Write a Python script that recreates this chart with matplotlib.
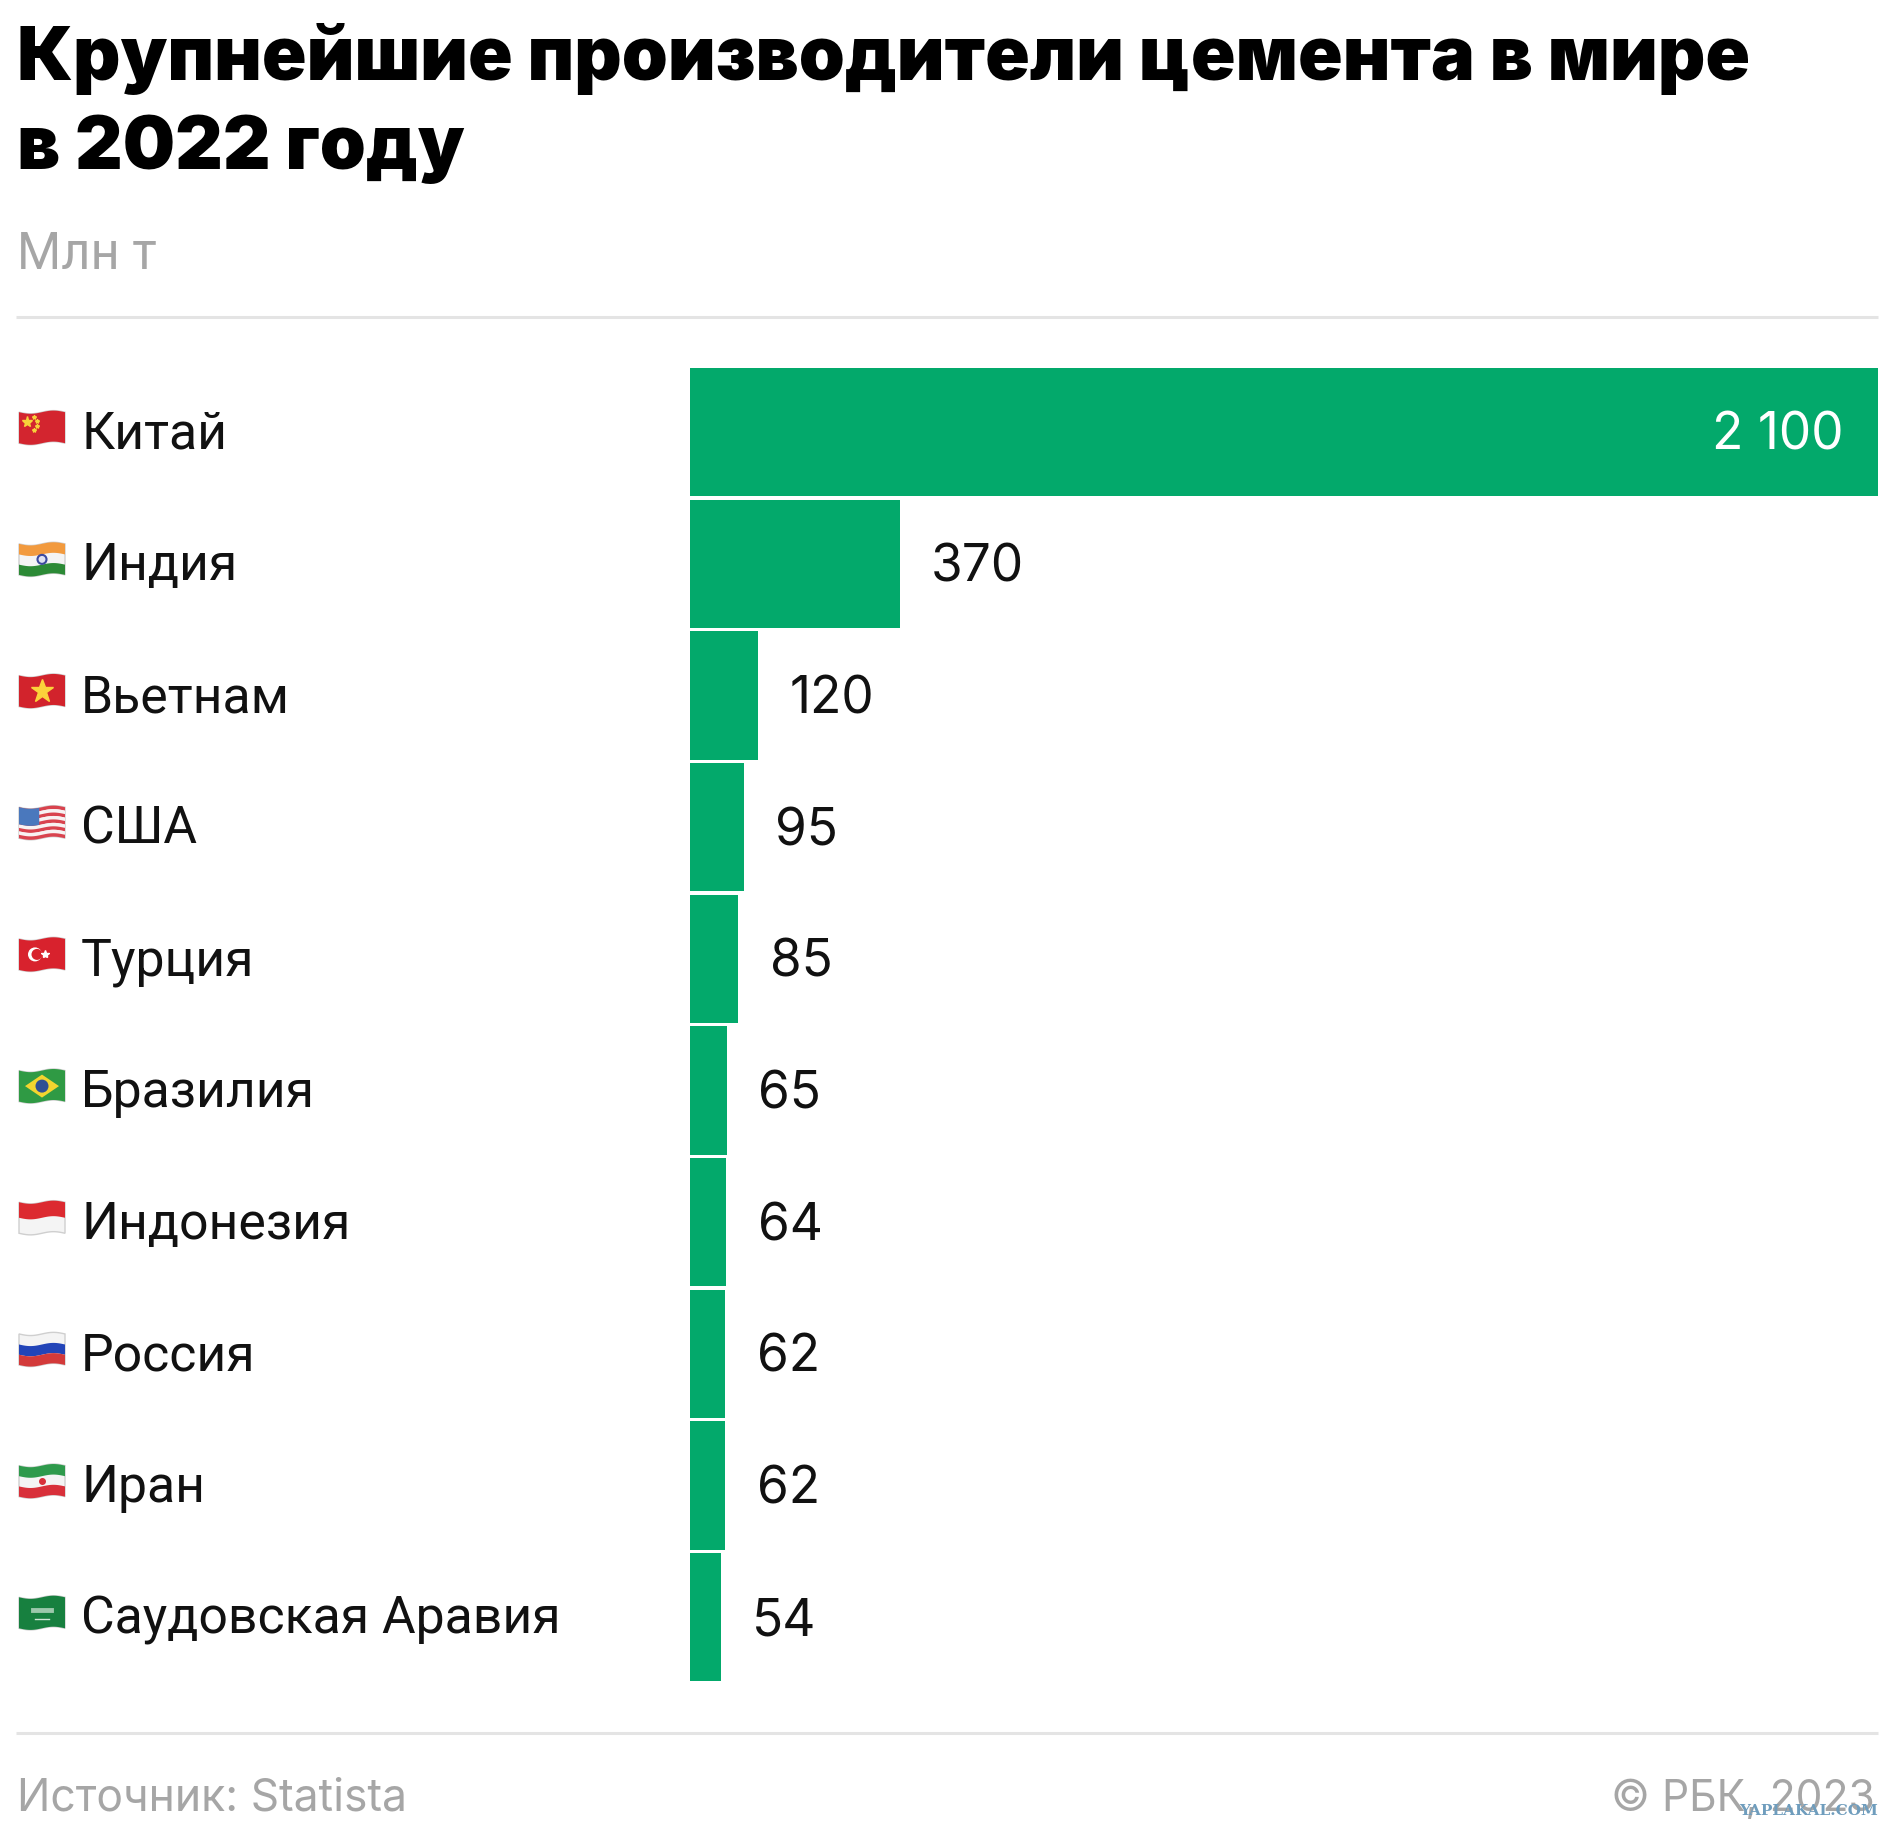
import numpy as np
import matplotlib
matplotlib.use('Agg')
from matplotlib import pyplot as plt
from matplotlib.patches import Polygon, Circle

W = 1904
H = 1840

countries = ['Китай', 'Индия', 'Вьетнам', 'США', 'Турция', 'Бразилия',
             'Индонезия', 'Россия', 'Иран', 'Саудовская Аравия']
values = [2100, 370, 120, 95, 85, 65, 64, 62, 62, 54]
value_labels = ['2 100', '370', '120', '95', '85', '65', '64', '62', '62', '54']

GREEN = '#03a96b'
GREY = '#a6a6a6'
RULE = '#e4e4e4'
INK = '#111111'

plt.rcParams['font.family'] = ['Inter', 'DejaVu Sans']

fig = plt.figure(figsize=(W/100, H/100), dpi=100, facecolor='white')

# overlay in pixel coords, for rules, header and flags
bg = fig.add_axes([0, 0, 1, 1])
bg.set_xlim(0, W)
bg.set_ylim(H, 0)
bg.axis('off')

# bars
left, right, top, bottom = 690.3, 1878, 369, 1682.5
ax = fig.add_axes([left/W, 1-bottom/H, (right-left)/W, (bottom-top)/H])
ax.barh(np.arange(len(values)), values, height=0.975, color=GREEN)
ax.set_xlim(0, 2100)
ax.set_ylim(9.4875, -0.4875)
ax.axis('off')


def row_center(i):
    return top + (i + 0.4875) * (bottom-top)/9.975


for i, v in enumerate(values):
    if v > 1000:
        ax.annotate(value_labels[i], (v, i), xytext=(-24.5, 1.6), textcoords='offset points',
                    ha='right', va='center_baseline', fontsize=37, color='white')
    else:
        ax.annotate(value_labels[i], (v, i), xytext=(22.6, 1.6), textcoords='offset points',
                    ha='left', va='center_baseline', fontsize=37, color=INK)
    bg.text(81, row_center(i) - 4, countries[i], ha='left', va='center_baseline',
            fontsize=37.3, color=INK, family='Roboto')

# title etc
bg.text(17, 80, 'Крупнейшие производители цемента в мире', fontsize=53.1, fontweight='black', color='black')
bg.text(17, 169, 'в 2022 году', fontsize=53.1, fontweight='black', color='black')
bg.text(17, 269, 'Млн т', fontsize=36.5, color=GREY, family='Roboto')
bg.plot([16, 1878], [318, 318], color=RULE, lw=2.2, solid_capstyle='butt')
bg.plot([16, 1878], [1734, 1734], color=RULE, lw=2.2, solid_capstyle='butt')
bg.text(17, 1811, 'Источник: Statista', fontsize=32, color=GREY)
bg.text(1875, 1811, '© РБК, 2023', fontsize=30.7, color=GREY, ha='right')
bg.text(1878, 1815, 'YAPLAKAL.COM', fontsize=11, color='#6f9dbd', ha='right', fontweight='bold', family='DejaVu Serif')


def wave(x, x0, w):
    return 1.6*np.sin((x-x0)/w*2*np.pi)


def stripe(x0, y0, w, h, f0, f1, color, part=1.0, edge='none'):
    # piece of a waving flag between height fractions f0 and f1
    xs = np.linspace(x0, x0+w*part, 30)
    upper = y0 + f0*h + wave(xs, x0, w)
    lower = y0 + f1*h + wave(xs, x0, w)
    pts = np.column_stack([np.r_[xs, xs[::-1]], np.r_[upper, lower[::-1]]])
    bg.add_patch(Polygon(pts, closed=True, facecolor=color, edgecolor=edge, lw=1, zorder=3))


def draw_flag(name, yc):
    x0, w, h = 19, 46, 31
    y0 = yc - h/2
    cx = x0 + w/2
    stripe(x0, y0, w, h, 0, 1, '#f4f4f4', edge='#cfcfcf')
    if name == 'Китай':
        stripe(x0, y0, w, h, 0, 1, '#d3252f')
        bg.plot(x0+8, y0+10, marker='*', ms=8, color='#f7d23a', zorder=4)
        for dx, dy in [(15, 5), (18, 9), (18, 14), (15, 18)]:
            bg.plot(x0+dx, y0+dy, marker='*', ms=3, color='#f7d23a', zorder=4)
    elif name == 'Индия':
        stripe(x0, y0, w, h, 0, 0.34, '#f29a3e')
        stripe(x0, y0, w, h, 0.67, 1, '#2c8a36')
        bg.add_patch(Circle((cx, yc), 4.5, fc='#dfe2f2', ec='#3d4a9e', lw=1.5, zorder=4))
    elif name == 'Вьетнам':
        stripe(x0, y0, w, h, 0, 1, '#d2232c')
        bg.plot(cx, yc, marker='*', ms=17, color='#fbd33b', zorder=4)
    elif name == 'США':
        for k in range(9):
            col = '#d9434e' if k % 2 == 0 else '#f8f2f2'
            stripe(x0, y0, w, h, k/9, (k+1)/9, col)
        stripe(x0, y0, w, h, 0, 0.55, '#4a78bd', part=0.44)
    elif name == 'Турция':
        stripe(x0, y0, w, h, 0, 1, '#d8222d')
        bg.add_patch(Circle((x0+16, yc), 7, fc='white', ec='none', zorder=4))
        bg.add_patch(Circle((x0+18, yc), 5.5, fc='#d8222d', ec='none', zorder=5))
        bg.plot(x0+26, yc, marker='*', ms=6, color='white', zorder=5)
    elif name == 'Бразилия':
        stripe(x0, y0, w, h, 0, 1, '#2f9a44')
        bg.add_patch(Polygon([[x0+6, yc], [cx, y0+4], [x0+w-6, yc], [cx, y0+h-4]],
                             fc='#f2d52f', ec='none', zorder=4))
        bg.add_patch(Circle((cx, yc), 6.5, fc='#2f4f94', ec='none', zorder=5))
    elif name == 'Индонезия':
        stripe(x0, y0, w, h, 0, 0.5, '#dc2a30')
    elif name == 'Россия':
        stripe(x0, y0, w, h, 0.34, 0.67, '#2244b8')
        stripe(x0, y0, w, h, 0.67, 1, '#d33a3a')
    elif name == 'Иран':
        stripe(x0, y0, w, h, 0, 0.34, '#2e9a4c')
        stripe(x0, y0, w, h, 0.67, 1, '#d8303a')
        bg.plot(cx, yc, marker='o', ms=4, color='#d8303a', zorder=4)
    elif name == 'Саудовская Аравия':
        stripe(x0, y0, w, h, 0, 1, '#17803f')
        bg.plot([cx-9, cx+9], [yc-3, yc-3], color='#9cc8ab', lw=3.5, zorder=4)
        bg.plot([cx-7, cx+7], [yc+6, yc+6], color='#cfe6d6', lw=1, zorder=4)


for i, c in enumerate(countries):
    draw_flag(c, row_center(i) - 4.5)

fig.savefig('out.png', dpi=100)
